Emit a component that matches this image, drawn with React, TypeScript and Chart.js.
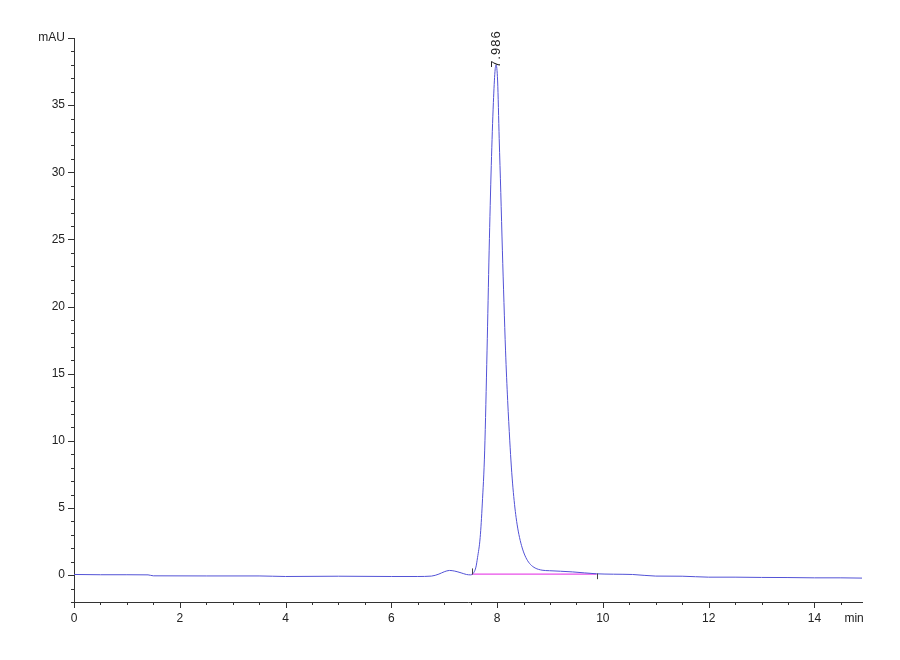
import React, { useRef, useEffect } from 'react';
import { Chart, registerables } from 'chart.js';

Chart.register(...registerables);

// chromatogram trace (min, mAU)
const times = [
  0, 0.5, 1.0, 1.4, 1.5, 2.5, 3.5, 4.0, 5.0, 6.0, 6.5, 6.76, 6.9, 7.0, 7.1, 7.2, 7.32, 7.42, 7.5,
  7.54, 7.58, 7.6, 7.63, 7.68, 7.72, 7.765, 7.81, 7.85, 7.89, 7.93, 7.96, 7.98, 8.01, 8.04, 8.07,
  8.1, 8.13, 8.16, 8.2, 8.24, 8.27, 8.3, 8.33, 8.36, 8.4, 8.45, 8.5, 8.56, 8.63, 8.72, 8.85, 8.99,
  9.2, 9.43, 9.65, 9.88, 10.2, 10.56, 11.0, 11.5, 12.0, 12.5, 13.0, 13.5, 14.0, 14.5, 14.9,
];
const signal = [
  0.05, 0.03, 0.03, 0.02, -0.05, -0.06, -0.06, -0.1, -0.08, -0.1, -0.1, -0.07, 0.08, 0.25, 0.35, 0.3, 0.17, 0.05, 0.02,
  0.1, 0.35, 0.6, 1.3, 2.8, 5.3, 9.25, 16.7, 24.2, 30.5, 35.2, 37.5, 38.0, 36.8, 32.5, 28.5,
  24.2, 20.3, 16.7, 13.0, 10.0, 8.05, 6.5, 5.27, 4.28, 3.28, 2.38, 1.73, 1.19, 0.8, 0.53, 0.37, 0.33,
  0.29, 0.24, 0.17, 0.1, 0.07, 0.05, -0.07, -0.08, -0.15, -0.15, -0.17, -0.18, -0.2, -0.2, -0.22,
];

// integration baseline of the main peak
const baselineTimes = [7.52, 9.88];
const baselineValues = [0.08, 0.08];

const peakLabel = '7.986';
const peakTime = 7.986;
const peakHeight = 38.0;

const xTickValues = [0, 2, 4, 6, 8, 10, 12, 14, 14.75];
const yTickValues = [0, 5, 10, 15, 20, 25, 30, 35, 40];
const xUnit = 'min';
const yUnit = 'mAU';

const FONT = '"Liberation Sans", Arial, sans-serif';

const axisDecor = {
  id: 'axisDecor',
  afterDraw(chart: any) {
    const { ctx, scales } = chart;
    const x = scales.x;
    const y = scales.y;
    const left = x.left;
    const bottom = y.bottom;
    ctx.save();
    ctx.strokeStyle = '#333';
    ctx.lineWidth = 1;
    ctx.beginPath();
    // y minor/major ticks
    for (let v = -2; v <= 40; v += 1) {
      const py = Math.round(y.getPixelForValue(v)) + 0.5;
      const len = v % 5 === 0 ? 6 : 3;
      ctx.moveTo(left - len, py);
      ctx.lineTo(left, py);
    }
    // x minor/major ticks
    for (let v = 0; v <= 14.5; v += 0.5) {
      const px = Math.round(x.getPixelForValue(v)) + 0.5;
      const len = v % 2 === 0 ? 6 : 3;
      ctx.moveTo(px, bottom);
      ctx.lineTo(px, bottom + len);
    }
    ctx.stroke();

    // peak start / end markers
    ctx.strokeStyle = '#444';
    ctx.beginPath();
    const sx = Math.round(x.getPixelForValue(baselineTimes[0])) + 0.5;
    ctx.moveTo(sx, y.getPixelForValue(0.5));
    ctx.lineTo(sx, y.getPixelForValue(0.05));
    const ex = Math.round(x.getPixelForValue(baselineTimes[1])) + 0.5;
    ctx.moveTo(ex, y.getPixelForValue(0.12));
    ctx.lineTo(ex, y.getPixelForValue(-0.3));
    ctx.stroke();

    // retention time label
    const lx = x.getPixelForValue(peakTime);
    const ly = y.getPixelForValue(peakHeight) + 3;
    ctx.translate(lx, ly);
    ctx.rotate(-Math.PI / 2);
    ctx.fillStyle = '#222';
    ctx.font = `13px ${FONT}`;
    (ctx as any).letterSpacing = '1px';
    ctx.textAlign = 'left';
    ctx.textBaseline = 'middle';
    ctx.fillText(peakLabel, 0, 0);
    ctx.restore();
  },
};

const App = () => {
  const chartRef = useRef<HTMLCanvasElement>(null);
  const chartInstanceRef = useRef<Chart | null>(null);

  useEffect(() => {
    if (chartRef.current && !chartInstanceRef.current) {
      const context = chartRef.current.getContext('2d');
      if (context) {
        chartInstanceRef.current = new Chart(context, {
          type: 'line',
          data: {
            datasets: [
              {
                label: 'trace',
                data: times.map((t, i) => ({ x: t, y: signal[i] })),
                borderColor: '#5252d6',
                borderWidth: 1,
                pointRadius: 0,
                cubicInterpolationMode: 'monotone',
                fill: false,
              },
              {
                label: 'baseline',
                data: baselineTimes.map((t, i) => ({ x: t, y: baselineValues[i] })),
                borderColor: '#e84ee8',
                borderWidth: 1.2,
                pointRadius: 0,
                fill: false,
              },
            ],
          },
          options: {
            animation: false,
            responsive: true,
            maintainAspectRatio: false,
            layout: {
              padding: { top: 38, right: 38, left: 0, bottom: 0 },
            },
            scales: {
              x: {
                type: 'linear',
                min: 0,
                max: 14.9,
                afterBuildTicks: (scale: any) => {
                  scale.ticks = xTickValues.map((v) => ({ value: v }));
                },
                afterFit: (scale: any) => {
                  scale.height = 58;
                },
                grid: { display: true, drawOnChartArea: false, drawTicks: false },
                border: { display: true, color: '#333', width: 1 },
                ticks: {
                  autoSkip: false,
                  maxRotation: 0,
                  padding: 9,
                  color: '#222',
                  font: { family: FONT, size: 12 },
                  callback: (v: any) => (v === 14.75 ? xUnit : String(v)),
                },
              },
              y: {
                type: 'linear',
                min: -2,
                max: 40,
                afterBuildTicks: (scale: any) => {
                  scale.ticks = yTickValues.map((v) => ({ value: v }));
                },
                afterFit: (scale: any) => {
                  scale.width = 74;
                },
                grid: { display: true, drawOnChartArea: false, drawTicks: false },
                border: { display: true, color: '#333', width: 1 },
                ticks: {
                  autoSkip: false,
                  padding: 9,
                  color: '#222',
                  font: { family: FONT, size: 12 },
                  callback: (v: any) => (v === 40 ? yUnit : String(v)),
                },
              },
            },
            plugins: {
              legend: { display: false },
              tooltip: { enabled: false },
            },
          },
          plugins: [axisDecor],
        });
      }
    }
    return () => {
      if (chartInstanceRef.current) {
        chartInstanceRef.current.destroy();
        chartInstanceRef.current = null;
      }
    };
  }, []);

  return (
    <div style={{ position: 'fixed', left: 0, top: 0, width: 900, height: 660, background: '#fff' }}>
      <canvas ref={chartRef} />
    </div>
  );
};

export default App;
